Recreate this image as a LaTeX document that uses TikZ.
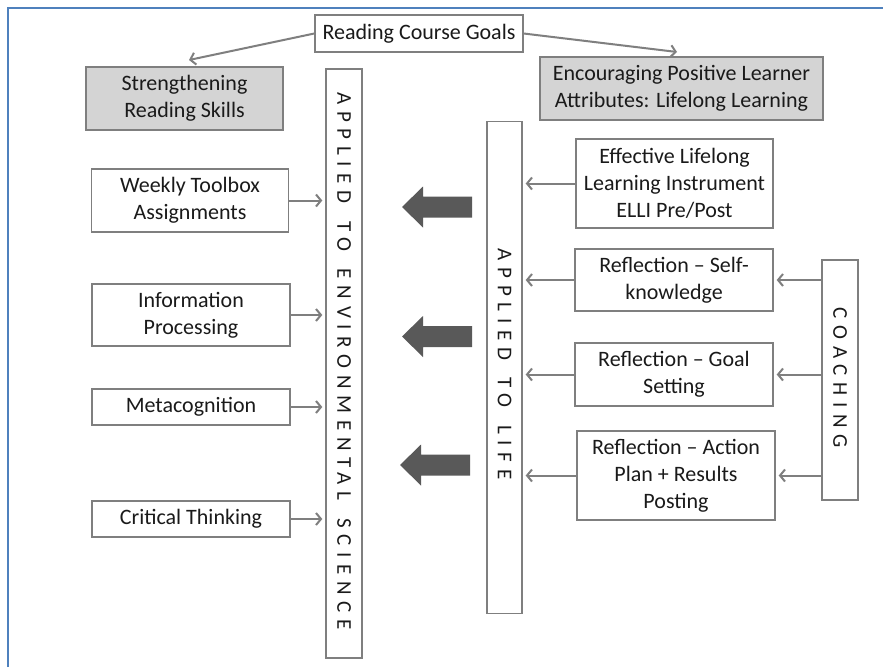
\documentclass[tikz,border=0pt]{standalone}
\usepackage{fontspec}
\setmainfont{Carlito}
\usetikzlibrary{arrows.meta,calc}
\definecolor{boxgray}{HTML}{7F7F7F}
\definecolor{fillgray}{HTML}{D4D4D4}
\definecolor{darkarrow}{HTML}{595959}
\definecolor{frameblue}{HTML}{4F81BD}
\definecolor{txt}{HTML}{1A1A1A}
\newcommand{\wgap}{\hspace{6pt}}
\begin{document}
\begin{tikzpicture}[x=1pt,y=-1pt,
  box/.style={draw=boxgray,line width=1.4pt,inner sep=0pt,align=center,
    font=\fontsize{22}{27}\selectfont,text=txt},
  goalbox/.style={box,fill=fillgray},
  vbox/.style={draw=boxgray,line width=1.4pt,inner sep=0pt},
  vlabel/.style={rotate=-90,inner sep=0pt,text=txt,
    font=\fontsize{21}{25}\selectfont\addfontfeature{LetterSpace=32}},
  conn/.style={draw=boxgray,line width=2pt,-{Straight Barb[length=5pt,width=12pt]}},
  blockarrow/.pic={\fill[darkarrow] (0,0) -- (21,20.5) -- (21,10.5) -- (70,10.5)
      -- (70,-10.5) -- (21,-10.5) -- (21,-20.5) -- cycle;}
]
\useasboundingbox (0,0) rectangle (883,667);
\fill[white] (0,0) rectangle (883,667);
\draw[frameblue,line width=2.5pt] (8,667) -- (8,8) -- (883,8);

% top
\node[box,minimum width=208pt,minimum height=37pt] (goals) at (419,33.5) {Reading Course Goals};
\node[goalbox,minimum width=197pt,minimum height=63pt] (strength) at (184.5,98.5) {Strengthening\\Reading Skills};
\node[goalbox,minimum width=283pt,minimum height=63pt] (encour) at (681.5,88.5) {Encouraging Positive Learner\\Attributes: Lifelong Learning};
\coordinate (lefttip) at (189,60);
\coordinate (righttip) at (677,52);
\draw[conn] (goals.west) -- (lefttip);
\draw[conn] (goals.east) -- (righttip);

% vertical boxes
\node[vbox,minimum width=36pt,minimum height=589pt] (env) at (344,363.5) {};
\node[vlabel] (envtext) at (344,361) {APPLIED \wgap TO \wgap ENVIRONMENTAL \wgap SCIENCE};
\node[vbox,minimum width=35pt,minimum height=492pt] (life) at (504.5,367.5) {};
\node[vlabel] (lifetext) at (504.5,364) {APPLIED \wgap TO \wgap LIFE};
\node[vbox,minimum width=36pt,minimum height=240pt] (coach) at (840,380) {};
\node[vlabel] (coachtext) at (840,378) {COACHING};

% left boxes
\node[box,minimum width=197pt,minimum height=63pt] (weekly) at (190,200.5) {Weekly Toolbox\\Assignments};
\node[box,minimum width=198pt,minimum height=62pt] (info) at (191,315) {Information\\Processing};
\node[box,minimum width=198pt,minimum height=36pt] (meta) at (191,407) {Metacognition};
\node[box,minimum width=198pt,minimum height=36pt] (crit) at (191,519) {Critical Thinking};
\foreach \n in {weekly,info,meta,crit}
  \draw[conn,shorten >=3pt] (\n.east) -- (\n.east -| env.west);

% right boxes
\node[box,minimum width=197pt,minimum height=89pt] (elli) at (674.5,183.5) {Effective Lifelong\\Learning Instrument\\ELLI Pre/Post};
\node[box,minimum width=198pt,minimum height=62pt] (self) at (674,280) {Reflection -- Self-\\knowledge};
\node[box,minimum width=198pt,minimum height=63pt] (goal) at (674,374.5) {Reflection -- Goal\\Setting};
\node[box,minimum width=198pt,minimum height=89pt] (action) at (676,475.5) {Reflection -- Action\\Plan + Results\\Posting};
\foreach \n in {elli,self,goal,action}
  \draw[conn,shorten >=3pt] (\n.west) -- (\n.west -| life.east);
\foreach \n in {self,goal,action}
  \draw[conn,shorten >=3pt] (coach.west |- \n.east) -- (\n.east);

% block arrows
\pic at (402,207) {blockarrow};
\pic at (402,336.5) {blockarrow};
\pic at (400,465) {blockarrow};
\end{tikzpicture}
\end{document}
